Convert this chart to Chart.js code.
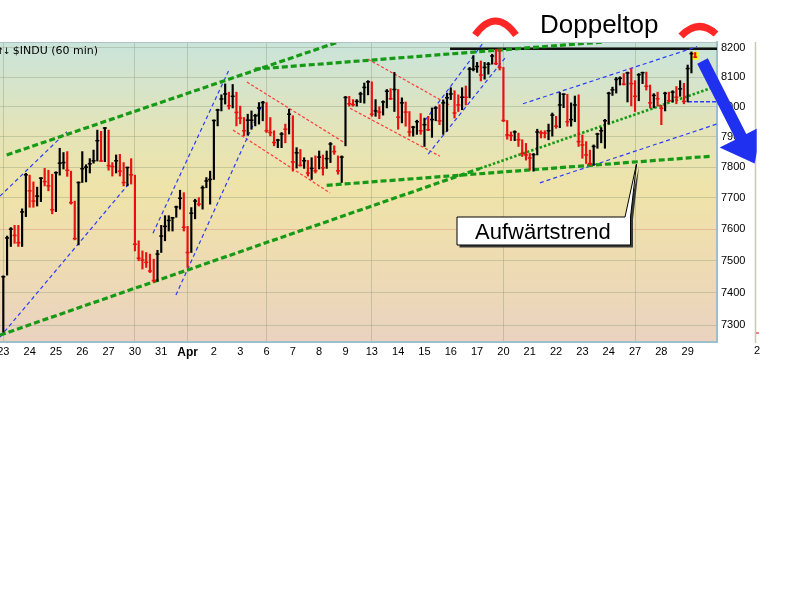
<!DOCTYPE html>
<html lang="de">
<head>
<meta charset="UTF-8">
<title>$INDU (60 min)</title>
<script src="https://cdn.jsdelivr.net/npm/chart.js@4.4.0/dist/chart.umd.min.js"></script>
<style>
  body { margin: 0; background: #fff; }
  #wrap { position: relative; width: 800px; height: 600px; }
</style>
</head>
<body>
<div id="wrap"><canvas id="myChart" width="800" height="600"></canvas></div>
<script>
// trading days (one tick per day, 7 hourly bars per day)
const dayLabels = ['23','24','25','26','27','30','31','Apr','2','3','6','7','8','9','13','14','15','16','17','20','21','22','23','24','27','28','29'];
const gridDays = [0, 5, 7, 10, 14, 19, 24];
const priceTicks = [7300, 7400, 7500, 7600, 7700, 7800, 7900, 8000, 8100, 8200];

// hourly bars
const opens = [7285,7460,7572,7600,7580,7557,7655,7772,7723,7690,7706,7764,7753,7739,7662,7782,7813,7815,7786,7685,
  7570,7750,7795,7800,7811,7821,7887,7820,7920,7805,7802,7821,7787,7750,7799,7770,7552,7508,7502,7495,
  7468,7438,7521,7578,7609,7628,7636,7671,7699,7600,7526,7651,7690,7680,7733,7755,7760,7954,7989,8026,
  8043,8003,8035,7981,7962,7920,7940,7955,7970,7996,8014,7920,7914,7881,7889,7935,7925,7965,7817,7847,
  7806,7821,7781,7796,7788,7833,7798,7828,7865,7835,7788,7875,8031,8010,8007,8018,8043,8065,8080,7975,
  7986,7982,8016,8052,8027,8055,7965,8013,7982,7916,7932,7950,7920,7940,7923,7957,7996,7953,8013,8030,
  8043,8020,8006,8045,8032,8125,8127,8136,8107,8133,8144,8172,8146,8133,7954,7906,7904,7910,7890,7845,
  7840,7830,7841,7916,7913,7912,7920,7965,7935,8006,8042,7950,7957,8006,7884,7873,7840,7812,7868,7909,
  7920,7953,8045,8057,8092,8096,8076,8114,8078,8035,8108,8115,8069,8013,8038,8000,7995,8045,8020,8049,
  8032,8060,8018,8129,8180];
const highs = [7453,7578,7605,7612,7612,7665,7780,7774,7752,7735,7766,7796,7790,7777,7785,7862,7848,7851,7787,7690,
  7752,7851,7808,7828,7856,7922,7918,7931,7922,7815,7840,7842,7815,7800,7828,7774,7563,7531,7526,7521,
  7505,7533,7612,7643,7643,7638,7674,7725,7717,7609,7669,7696,7701,7739,7766,7787,7956,7992,8040,8077,
  8049,8075,8049,8002,7964,7975,7986,7975,8014,8018,8014,7964,7920,7892,7914,7942,7992,7970,7864,7858,
  7831,7822,7831,7837,7853,7840,7853,7881,7870,7837,7837,8035,8035,8024,8024,8049,8080,8088,8084,8024,
  8000,8020,8058,8061,8116,8058,8030,8016,7984,7935,7955,7977,7962,7968,7996,8000,8007,8023,8046,8064,
  8054,8040,8064,8070,8133,8173,8150,8155,8150,8150,8178,8195,8195,8133,7954,7916,7920,7912,7890,7878,
  7845,7845,7925,7920,7920,7942,7979,7968,8048,8044,8042,8013,8036,8040,7906,7884,7856,7873,7912,7930,
  7958,8049,8066,8099,8101,8112,8117,8129,8088,8112,8117,8117,8073,8044,8049,8005,8049,8049,8054,8068,
  8088,8079,8141,8186,8184];
const lows = [7279,7455,7545,7555,7545,7545,7640,7670,7670,7674,7688,7739,7723,7649,7656,7774,7794,7770,7680,7566,
  7550,7750,7752,7781,7813,7820,7820,7818,7790,7771,7781,7771,7739,7739,7745,7531,7500,7474,7479,7463,
  7433,7436,7526,7563,7594,7594,7638,7664,7594,7479,7526,7633,7674,7664,7733,7680,7760,7936,7986,8009,
  7992,7996,7936,7943,7903,7905,7925,7936,7942,7953,7914,7903,7870,7864,7864,7880,7909,7787,7797,7803,
  7796,7771,7760,7781,7794,7774,7796,7815,7842,7777,7750,7870,8002,8002,8002,8014,8012,8040,7968,7968,
  7960,7972,7996,8024,7984,7925,7946,7935,7902,7902,7908,7908,7868,7920,7898,7953,7940,7908,7918,8024,
  7962,7984,7990,8006,8030,8121,8116,8087,8093,8110,8144,8142,8124,7950,7892,7887,7887,7868,7835,7823,
  7790,7787,7840,7896,7896,7890,7902,7928,7930,7997,7935,7935,7950,7868,7829,7812,7806,7806,7862,7880,
  7862,7942,8038,8046,8073,8073,8016,8003,7984,8020,8078,8056,7996,7996,8002,7940,7986,8016,8016,8010,
  8035,8010,8016,8114,8166];
const closes = [7450,7572,7600,7580,7557,7655,7775,7723,7690,7706,7764,7753,7739,7662,7782,7813,7815,7790,7685,7570,
  7750,7795,7800,7811,7821,7887,7820,7929,7805,7802,7821,7787,7750,7799,7775,7552,7508,7502,7495,7468,
  7438,7521,7578,7609,7628,7636,7671,7699,7606,7526,7651,7690,7680,7733,7755,7760,7954,7989,8026,8043,
  8003,8035,7981,7962,7920,7955,7955,7970,7996,8014,7920,7914,7881,7889,7909,7925,7975,7817,7847,7806,
  7821,7781,7796,7788,7833,7798,7828,7876,7851,7788,7833,8031,8010,8007,8018,8043,8065,8084,7975,7986,
  7982,8016,8052,8027,8058,7965,8013,7982,7916,7932,7950,7920,7940,7923,7957,7996,7953,8013,8030,8043,
  7979,8006,8032,8032,8127,8127,8136,8107,8133,8144,8172,8146,8133,7954,7906,7904,7916,7890,7845,7840,
  7830,7841,7916,7913,7912,7920,7972,7935,8006,8042,7950,7957,8006,7884,7873,7840,7812,7868,7909,7920,
  7953,8045,8057,8092,8096,8076,8114,8078,8035,8108,8115,8069,8013,8038,8027,7995,8045,8020,8049,8032,
  8060,8018,8129,8180,8168];

// trend lines: [bar index 1, price 1, bar index 2, price 2]
const greenTrend = [[0.9, 7840, 89.5, 8222], [66.9, 8127, 159.5, 8220], [-0.88, 7270, 126.8, 7796], [86, 7741, 188.4, 7836]];
const greenDotted = [[126.8, 7796, 188.5, 8064]];
const blueChannel = [[-0.88, 7706, 16.9, 7917], [-0.88, 7264, 34, 7755], [39.8, 7587, 60, 8124], [45.9, 7393, 69.3, 8019],
  [112.2, 7955, 127.8, 8220], [113, 7843, 133.4, 8165], [138.2, 8010, 184.5, 8204], [142.7, 7749, 189.7, 7942]];
const redChannel = [[64.8, 8083, 90.9, 7879], [61.1, 7922, 86.9, 7716], [97, 8161, 118.8, 8005], [92.2, 7995, 116.1, 7836]];
const resistance = [[118.8, 8197, 189.8, 8197]];
const support = [[182.1, 8017, 189.8, 8017]];

const idx = closes.map((c, i) => i);
const barColors = closes.map((c, i) => c >= opens[i] ? '#000000' : '#e81010');

function lineSets(list, color, width, dash) {
  return list.map(l => ({
    type: 'line',
    data: [{x: l[0], y: l[1]}, {x: l[2], y: l[3]}],
    borderColor: color,
    borderWidth: width,
    borderDash: dash,
    pointRadius: 0,
    fill: false,
    tension: 0,
    order: 3
  }));
}

const datasets = [
  {
    type: 'scatter',
    data: idx.map(i => ({x: i, y: closes[i]})),
    pointStyle: 'line',
    pointRadius: 2,
    pointBorderWidth: 1.5,
    pointBorderColor: barColors,
    pointBackgroundColor: barColors,
    order: 0
  },
  {
    type: 'bar',
    data: idx.map(i => ({x: i, y: [lows[i], highs[i]]})),
    backgroundColor: barColors,
    barThickness: 1.5,
    grouped: false,
    order: 1
  },
  ...lineSets(greenTrend, '#169a16', 3.2, [6, 3]),
  ...lineSets(greenDotted, '#169a16', 2.6, [2.5, 2]),
  ...lineSets(blueChannel, '#2a3cff', 1.2, [4, 3]),
  ...lineSets(redChannel, '#ff3a3a', 1.2, [3, 2]),
  ...lineSets(resistance, '#111111', 2.5, []),
  ...lineSets(support, '#2a3cff', 1.6, [4, 2])
];

const background = {
  id: 'background',
  beforeDraw(chart) {
    const {ctx, chartArea: a} = chart;
    ctx.save();
    ctx.fillStyle = '#fff';
    ctx.fillRect(0, 0, chart.width, chart.height);
    const g = ctx.createLinearGradient(0, a.top, 0, a.bottom);
    g.addColorStop(0, '#c9e4db');
    g.addColorStop(0.3, '#e4e4b8');
    g.addColorStop(0.5, '#efe3a8');
    g.addColorStop(0.75, '#eedbb3');
    g.addColorStop(1, '#ead2c0');
    ctx.fillStyle = g;
    ctx.fillRect(a.left, a.top, a.right - a.left, a.bottom - a.top);
    ctx.restore();
  },
  beforeDatasetsDraw(chart) {
    // yellow mark behind the last bar
    const {ctx, scales} = chart;
    const last = closes.length - 1;
    const x = scales.x.getPixelForValue(last);
    const top = scales.y.getPixelForValue(highs[last]) - 0.6;
    const bottom = scales.y.getPixelForValue(lows[last]) + 2;
    ctx.save();
    ctx.fillStyle = '#ffff00';
    ctx.fillRect(x - 3.3, top, 6.6, bottom - top);
    ctx.restore();
  }
};

const notes = {
  id: 'notes',
  afterDraw(chart) {
    const {ctx, chartArea: a} = chart;
    ctx.save();

    ctx.strokeStyle = '#b0c2c4';
    ctx.lineWidth = 1;
    ctx.beginPath();
    ctx.moveTo(a.left, a.top + 0.5);
    ctx.lineTo(a.right, a.top + 0.5);
    ctx.stroke();

    // chart title
    ctx.fillStyle = '#000';
    ctx.textBaseline = 'alphabetic';
    ctx.textAlign = 'left';
    ctx.font = '11px "DejaVu Sans"';
    ctx.fillText('$INDU (60 min)', 12.7, 54);
    ctx.textAlign = 'center';
    ctx.font = '9px "DejaVu Sans"';
    ctx.fillText('↑', 0.5, 54);
    ctx.fillText('↓', 6.7, 54);

    // edge of the next panel
    ctx.strokeStyle = '#cdc6b2';
    ctx.lineWidth = 1.5;
    ctx.beginPath();
    ctx.moveTo(755.5, a.top);
    ctx.lineTo(755.5, a.bottom + 1);
    ctx.stroke();
    ctx.fillStyle = '#e81010';
    ctx.fillRect(756, 332.5, 3, 1);
    ctx.fillStyle = '#000';
    ctx.textAlign = 'left';
    ctx.textBaseline = 'top';
    ctx.font = '11px "Liberation Sans", Arial, sans-serif';
    ctx.fillText('2', 754, 345);

    // Doppeltop
    ctx.textBaseline = 'alphabetic';
    ctx.font = '26px "Liberation Sans", Arial, sans-serif';
    ctx.fillText('Doppeltop', 540, 32.5);

    ctx.strokeStyle = '#ff2626';
    ctx.lineWidth = 7;
    ctx.lineCap = 'butt';
    ctx.beginPath();
    ctx.moveTo(475, 35);
    ctx.quadraticCurveTo(495.5, 7, 516, 35);
    ctx.stroke();
    ctx.beginPath();
    ctx.moveTo(681, 36);
    ctx.quadraticCurveTo(698.5, 18, 716, 34);
    ctx.stroke();

    // Aufwärtstrend callout
    const box = () => {
      ctx.beginPath();
      ctx.moveTo(457, 217);
      ctx.lineTo(625, 217);
      ctx.lineTo(636.5, 164);
      ctx.lineTo(630.5, 217);
      ctx.lineTo(630.5, 245);
      ctx.lineTo(457, 245);
      ctx.closePath();
    };
    ctx.save();
    ctx.translate(2.5, 2.5);
    box();
    ctx.fillStyle = '#3a3a3a';
    ctx.fill();
    ctx.restore();
    box();
    ctx.fillStyle = '#fff';
    ctx.fill();
    ctx.strokeStyle = '#000';
    ctx.lineWidth = 1;
    ctx.stroke();
    ctx.fillStyle = '#000';
    ctx.font = '22px "Liberation Sans", Arial, sans-serif';
    ctx.fillText('Aufwärtstrend', 475, 238.5);

    // blue arrow, cut by the next panel
    ctx.save();
    ctx.beginPath();
    ctx.rect(0, 0, 756.7, chart.height);
    ctx.clip();
    ctx.fillStyle = '#2030f0';
    ctx.beginPath();
    ctx.moveTo(707.8, 58.3);
    ctx.lineTo(746.3, 134);
    ctx.lineTo(762.4, 125.8);
    ctx.lineTo(754.6, 163.4);
    ctx.lineTo(719.6, 147.6);
    ctx.lineTo(735.7, 139.4);
    ctx.lineTo(697.2, 63.7);
    ctx.closePath();
    ctx.fill();
    ctx.restore();

    ctx.restore();
  }
};

new Chart(document.getElementById('myChart'), {
  type: 'line',
  data: { datasets: datasets },
  options: {
    responsive: false,
    animation: false,
    events: [],
    layout: { autoPadding: false, padding: { left: 0, top: 42, right: 0, bottom: 240 } },
    plugins: { legend: { display: false }, tooltip: { enabled: false } },
    scales: {
      x: {
        type: 'linear',
        min: -0.88,
        max: 189.8,
        offset: false,
        afterBuildTicks: s => { s.ticks = dayLabels.map((d, k) => ({ value: k * 7 })); },
        afterFit: s => { s.height = 18; s.paddingLeft = 0; s.paddingRight = 0; },
        ticks: {
          autoSkip: false,
          maxRotation: 0,
          padding: 3,
          color: '#000',
          font: ctx => ({
            family: '"Liberation Sans", Arial, sans-serif',
            size: dayLabels[ctx.index] === 'Apr' ? 12 : 11,
            weight: dayLabels[ctx.index] === 'Apr' ? 'bold' : 'normal'
          }),
          callback: (v, k) => dayLabels[k]
        },
        grid: {
          drawTicks: false,
          offset: false,
          color: ctx => gridDays.includes(ctx.index) ? 'rgba(140,155,120,0.4)' : 'rgba(0,0,0,0)'
        },
        border: { color: '#9dbfca', width: 2 }
      },
      y: {
        type: 'logarithmic',
        position: 'right',
        min: 7249,
        max: 8220,
        afterBuildTicks: s => { s.ticks = priceTicks.map(v => ({ value: v })); },
        afterFit: s => { s.width = 83; s.paddingTop = 0; s.paddingBottom = 0; },
        ticks: {
          autoSkip: false,
          padding: 4,
          color: '#000',
          font: { family: '"Liberation Sans", Arial, sans-serif', size: 11 },
          callback: v => String(v)
        },
        grid: {
          drawTicks: false,
          color: ctx => ctx.tick && ctx.tick.value === 7600 ? 'rgba(225,140,120,0.45)' : 'rgba(140,155,120,0.38)'
        },
        border: { color: '#9dbfca', width: 2 }
      }
    }
  },
  plugins: [background, notes]
});
</script>
</body>
</html>
